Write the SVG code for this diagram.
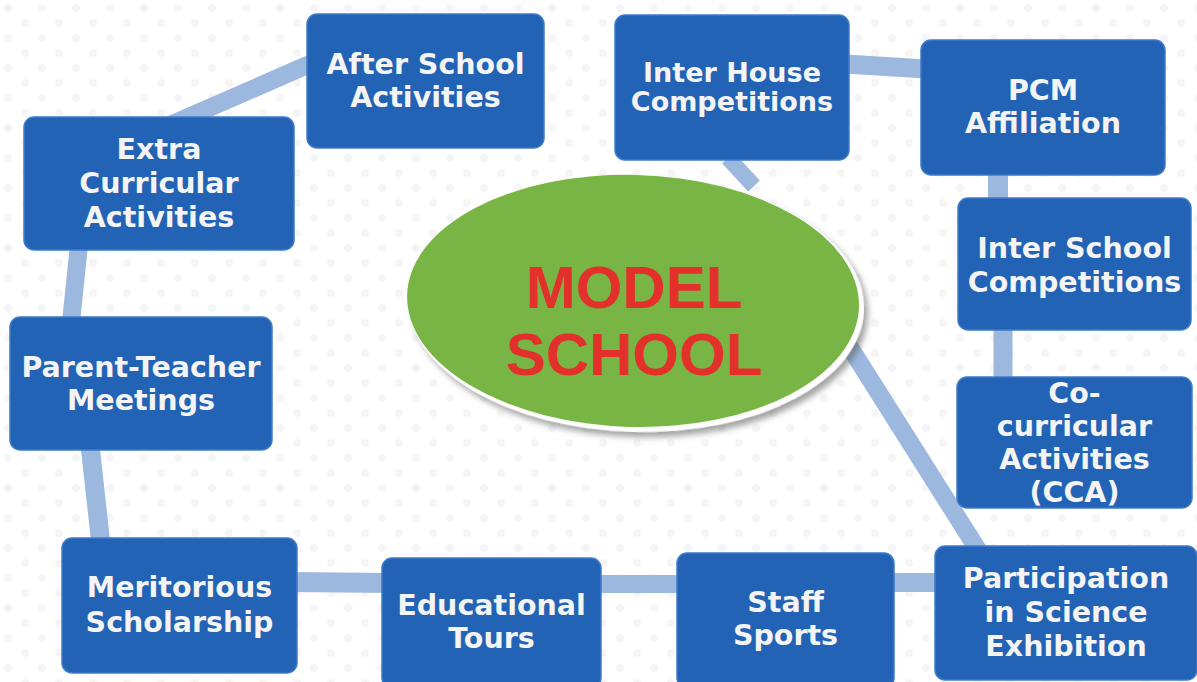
<svg xmlns="http://www.w3.org/2000/svg" width="1197" height="682" viewBox="0 0 1197 682">
  <defs>
    <pattern id="dots" width="34" height="30" patternUnits="userSpaceOnUse">
      <circle cx="8" cy="8" r="4" fill="#f4f5f8"/>
      <circle cx="25" cy="23" r="4" fill="#f7f5f3"/>
    </pattern>
    <filter id="shadow" x="-10%" y="-10%" width="125%" height="130%">
      <feDropShadow dx="4" dy="5" stdDeviation="3" flood-color="#555" flood-opacity="0.55"/>
    </filter>
    <style>
      .box { fill: #2263b5; stroke: #3f7bc8; stroke-width: 1.5; }
      .t { font-family: "DejaVu Sans", "Liberation Sans", sans-serif; font-weight: bold; font-size: 28.5px; fill: #f4f4f4; text-anchor: middle; }
      .con { stroke: #9db8df; stroke-linecap: butt; fill: none; }
      .title { font-family: "Liberation Sans", Arial, sans-serif; font-weight: bold; font-size: 60px; fill: #e3302a; text-anchor: middle; }
    </style>
  </defs>

  <rect width="1197" height="682" fill="#ffffff"/>
  <rect width="1197" height="682" fill="url(#dots)"/>

  <g id="connectors">
    <line class="con" x1="170" y1="125" x2="312" y2="63" stroke-width="18"/>
    <line class="con" x1="79" y1="245" x2="71" y2="322" stroke-width="18"/>
    <line class="con" x1="90" y1="445" x2="101" y2="545" stroke-width="19"/>
    <line class="con" x1="290" y1="582" x2="390" y2="583" stroke-width="20"/>
    <line class="con" x1="595" y1="584" x2="685" y2="584" stroke-width="18"/>
    <line class="con" x1="890" y1="582.5" x2="940" y2="582.5" stroke-width="19"/>
    <line class="con" x1="820" y1="300" x2="978" y2="550" stroke-width="18"/>
    <line class="con" x1="728" y1="158" x2="754" y2="186" stroke-width="16"/>
    <line class="con" x1="845" y1="64" x2="926" y2="69" stroke-width="19"/>
    <line class="con" x1="998" y1="170" x2="998" y2="202" stroke-width="20"/>
    <line class="con" x1="1003" y1="326" x2="1003" y2="381" stroke-width="19"/>
  </g>

  <g id="model-school">
    <g transform="rotate(1.5 636 304)">
      <ellipse cx="636" cy="304" rx="228" ry="128" fill="#ffffff" filter="url(#shadow)"/>
      <ellipse cx="633" cy="301" rx="226" ry="126" fill="#79b544"/>
    </g>
    <text class="title" x="634" y="308">MODEL</text>
    <text class="title" x="634" y="375">SCHOOL</text>
  </g>

  <g id="after-school">
    <rect class="box" x="307" y="14" width="237" height="134" rx="10"/>
    <text class="t" x="425.5" y="74">After School</text>
    <text class="t" x="425.5" y="107">Activities</text>
  </g>

  <g id="inter-house">
    <rect class="box" x="615" y="15" width="234" height="145" rx="10"/>
    <text class="t" x="732" y="82" style="font-size:27px">Inter House</text>
    <text class="t" x="732" y="111" style="font-size:27px">Competitions</text>
  </g>

  <g id="pcm">
    <rect class="box" x="921" y="40" width="244" height="135" rx="10"/>
    <text class="t" x="1043" y="100">PCM</text>
    <text class="t" x="1043" y="133">Affiliation</text>
  </g>

  <g id="extra-curricular">
    <rect class="box" x="24" y="117" width="270" height="133" rx="10"/>
    <text class="t" x="159" y="159">Extra</text>
    <text class="t" x="159" y="193">Curricular</text>
    <text class="t" x="159" y="227">Activities</text>
  </g>

  <g id="inter-school">
    <rect class="box" x="958" y="198" width="233" height="132" rx="10"/>
    <text class="t" x="1074.5" y="258">Inter School</text>
    <text class="t" x="1074.5" y="292">Competitions</text>
  </g>

  <g id="parent-teacher">
    <rect class="box" x="10" y="317" width="262" height="133" rx="10"/>
    <text class="t" x="141" y="377">Parent-Teacher</text>
    <text class="t" x="141" y="410">Meetings</text>
  </g>

  <g id="cca">
    <rect class="box" x="957" y="377" width="235" height="131" rx="10"/>
    <text class="t" x="1074.5" y="403">Co-</text>
    <text class="t" x="1074.5" y="436">curricular</text>
    <text class="t" x="1074.5" y="469">Activities</text>
    <text class="t" x="1074.5" y="502">(CCA)</text>
  </g>

  <g id="meritorious">
    <rect class="box" x="62" y="538" width="235" height="135" rx="10"/>
    <text class="t" x="179.5" y="597">Meritorious</text>
    <text class="t" x="179.5" y="632">Scholarship</text>
  </g>

  <g id="educational-tours">
    <rect class="box" x="382" y="558" width="219" height="130" rx="10"/>
    <text class="t" x="491.5" y="615">Educational</text>
    <text class="t" x="491.5" y="648">Tours</text>
  </g>

  <g id="staff-sports">
    <rect class="box" x="677" y="553" width="217" height="135" rx="10"/>
    <text class="t" x="785.5" y="612">Staff</text>
    <text class="t" x="785.5" y="645">Sports</text>
  </g>

  <g id="science-exhibition">
    <rect class="box" x="935" y="546" width="262" height="134" rx="10"/>
    <text class="t" x="1066" y="588">Participation</text>
    <text class="t" x="1066" y="622">in Science</text>
    <text class="t" x="1066" y="656">Exhibition</text>
  </g>
</svg>
